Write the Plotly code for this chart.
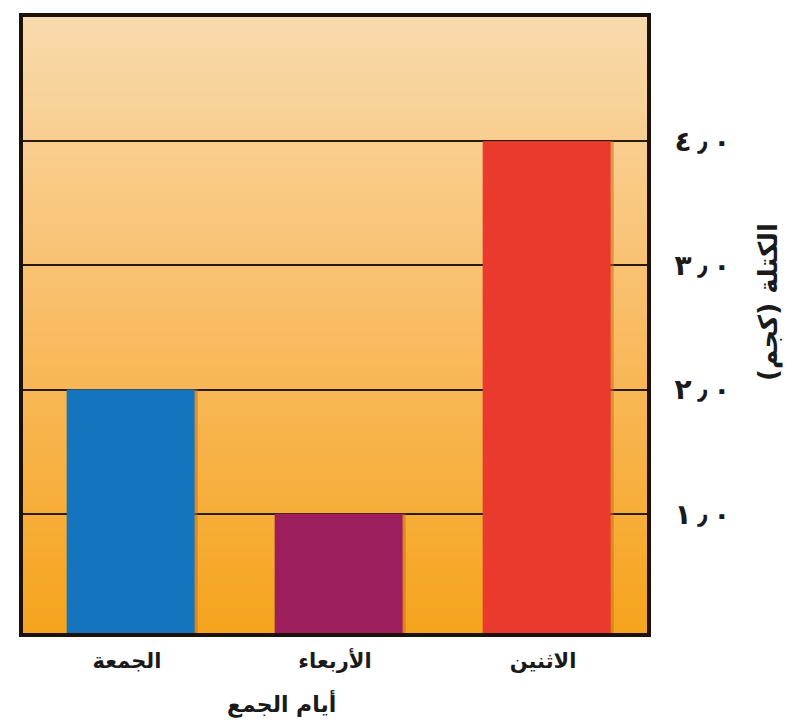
import plotly.graph_objects as go

days = ["الجمعة", "الأربعاء", "الاثنين"]
mass_kg = [2.0, 1.0, 4.0]
bar_colors = ["#1474BE", "#9C1E5C", "#EA3A2E"]
tick_vals = [1, 2, 3, 4]
tick_digits = ["١", "٢", "٣", "٤"]
# keep the digits in left-to-right order with the decimal mark spaced out
tick_text = [d + "\u200e\u2009٫\u2009\u200e٠" for d in tick_digits]

y_min, y_max = 0.04, 5.0


def mix(c1, c2, t):
    return "rgb({},{},{})".format(*[round(a + (b - a) * t) for a, b in zip(c1, c2)])


# background gradient: light peach at top, orange at bottom
top_col = (248, 218, 172)
mid_col = (249, 188, 100)
bot_col = (245, 164, 30)
n_bands = 80
shapes = []
for i in range(n_bands):
    t = i / (n_bands - 1)
    if t < 0.5:
        col = mix(top_col, mid_col, t / 0.5)
    else:
        col = mix(mid_col, bot_col, (t - 0.5) / 0.5)
    y1 = 1 - i / n_bands
    y0 = 1 - (i + 1) / n_bands
    shapes.append(dict(type="rect", xref="x domain", yref="y domain",
                       x0=0, x1=1, y0=y0 - 0.001, y1=y1 + 0.001,
                       fillcolor=col, line_width=0, layer="below"))

fig = go.Figure()

# soft shadow on the right side of each bar
fig.add_trace(go.Bar(
    x=days, y=mass_kg,
    marker=dict(color="rgba(200,110,20,0.55)", line_width=0),
    width=0.615, offset=-0.275,
    hoverinfo="skip", showlegend=False,
))

fig.add_trace(go.Bar(
    x=days, y=mass_kg,
    marker=dict(color=bar_colors, line_width=0),
    width=0.615, offset=-0.29,
    showlegend=False,
))

fig.add_annotation(
    text="أيام الجمع", xref="paper", yref="paper",
    x=0.414, y=-0.115, xanchor="center", yanchor="middle",
    showarrow=False, font=dict(size=22, weight="bold", color="#1a1a1a"),
)

fig.add_annotation(
    text="الكتلة (كجم)", xref="paper", yref="paper",
    x=1.195, y=0.537, xanchor="center", yanchor="middle", textangle=-90,
    showarrow=False, font=dict(size=26, weight="bold", color="#1a1a1a"),
)

fig.update_layout(
    width=793, height=728,
    margin=dict(l=15, r=154, t=5, b=103),
    paper_bgcolor="white",
    plot_bgcolor="rgba(0,0,0,0)",
    shapes=shapes,
    barmode="overlay",
    font=dict(family="DejaVu Sans", color="#1a1a1a"),
)

fig.update_xaxes(
    showgrid=False,
    showline=True, mirror=True, linewidth=4, linecolor="#1c120a",
    ticks="outside", ticklen=6, tickcolor="rgba(0,0,0,0)",
    tickfont=dict(size=21, weight="bold"),
)

fig.update_yaxes(
    side="right", range=[y_min, y_max],
    tickvals=tick_vals, ticktext=tick_text,
    showgrid=True, gridcolor="#2a1a0c", gridwidth=2,
    zeroline=False,
    showline=True, mirror=True, linewidth=4, linecolor="#1c120a",
    ticks="outside", ticklen=18, tickcolor="rgba(0,0,0,0)",
    tickfont=dict(size=28, weight="bold"),
)

fig.write_html("out.html")
